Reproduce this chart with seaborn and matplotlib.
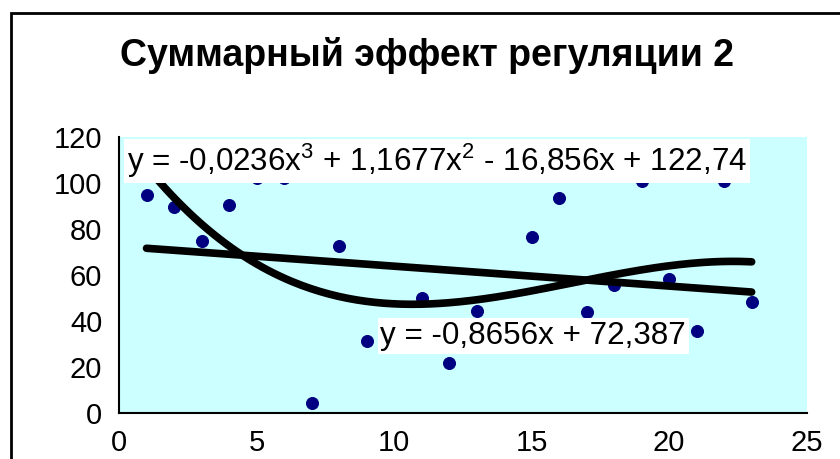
import numpy as np
import pandas as pd
import matplotlib
matplotlib.use("Agg")
import matplotlib.pyplot as plt
import seaborn as sns

# points
x_vals = [1, 2, 3, 4, 5, 6, 7, 8, 9, 11, 12, 13, 15, 16, 17, 18, 19, 20, 21, 22, 23]
y_vals = [94.7, 89.6, 74.8, 90.2, 102, 102, 4.3, 72.5, 31.2, 49.7, 21.6, 44.2,
          76.4, 93.3, 43.8, 55.5, 101, 58.1, 35.5, 101, 48.1]

# trendline coefficients as printed on the chart
poly_coef = [-0.0236, 1.1677, -16.856, 122.74]
lin_coef = [-0.8656, 72.387]
poly_label = "y = -0,0236x$^3$ + 1,1677x$^2$ - 16,856x + 122,74"
lin_label = "y = -0,8656x + 72,387"
title = "Суммарный эффект регуляции 2"

df = pd.DataFrame({"x": x_vals, "y": y_vals})
xs = np.linspace(min(x_vals), max(x_vals), 200)
trend = pd.DataFrame({"x": xs,
                      "poly": np.polyval(poly_coef, xs),
                      "lin": np.polyval(lin_coef, xs)})

sns.set_style("white")
plt.rcParams["font.family"] = ["Liberation Sans", "DejaVu Sans"]
plt.rcParams["mathtext.fontset"] = "custom"
plt.rcParams["mathtext.rm"] = "Liberation Sans"
plt.rcParams["text.color"] = "black"
plt.rcParams["xtick.color"] = "black"
plt.rcParams["ytick.color"] = "black"

fig = plt.figure(figsize=(8.4, 4.59), dpi=100)
ax = fig.add_axes([0.1417, 0.1009, 0.8186, 0.601])
ax.set_facecolor("#CCFFFF")

# outer chart frame
fig.patches.append(plt.Rectangle((11 / 840, -0.1), 1.2, 1 - 13 / 459 + 0.1,
                                 transform=fig.transFigure, fill=False,
                                 edgecolor="black", linewidth=2, zorder=0))

sns.scatterplot(data=df, x="x", y="y", ax=ax, color="#000080", s=75,
                marker="o", edgecolor="#000080", zorder=3)
sns.lineplot(data=trend, x="x", y="poly", ax=ax, color="black", linewidth=5.5, zorder=4)
sns.lineplot(data=trend, x="x", y="lin", ax=ax, color="black", linewidth=5.5, zorder=4)

ax.set_xlim(0, 25)
ax.set_ylim(0, 120)
ax.set_xticks(range(0, 26, 5))
ax.set_yticks(range(0, 121, 20))
ax.set_xlabel("")
ax.set_ylabel("")
for side in ["top", "right"]:
    ax.spines[side].set_visible(False)
for side in ["left", "bottom"]:
    ax.spines[side].set_color("black")
    ax.spines[side].set_linewidth(1.5)
ax.tick_params(axis="both", direction="out", length=7, width=1.5, color="black",
               labelsize=21, pad=5)

ax.text(0.3, 109.5, poly_label, fontsize=22.6, va="center", ha="left", zorder=6,
        bbox=dict(facecolor="white", edgecolor="none", pad=2))
ax.text(9.5, 33.3, lin_label, fontsize=22.6, va="center", ha="left", zorder=6,
        bbox=dict(facecolor="white", edgecolor="none", pad=2))

fig.text(0.508, 0.88, title, fontsize=27, fontweight="bold", ha="center", va="center")

fig.savefig("out.png", dpi=100, facecolor="white")
